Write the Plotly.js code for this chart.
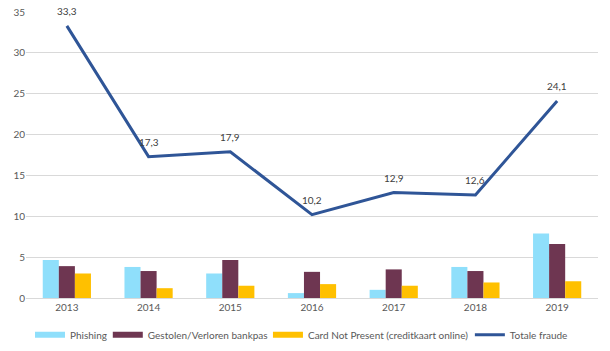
<!DOCTYPE html>
<html><head><meta charset="utf-8">
<script src="https://cdn.plot.ly/plotly-3.0.1.min.js"></script>
<style>html,body{margin:0;padding:0;background:#fff}#c{width:610px;height:351px}</style>
</head><body><div id="c"></div>
<script>
const years = ['2013','2014','2015','2016','2017','2018','2019'];
const phishing = [4.65, 3.8, 3.0, 0.6, 1.0, 3.8, 7.9];
const gestolen = [3.9, 3.3, 4.65, 3.2, 3.5, 3.3, 6.6];
const cnp = [3.0, 1.2, 1.5, 1.7, 1.5, 1.9, 2.05];
const totale = [33.3, 17.3, 17.9, 10.2, 12.9, 12.6, 24.1];
const names = ['Phishing','Gestolen/Verloren bankpas','Card Not Present (creditkaart online)','Totale fraude'];
const colors = ['#8FDFFB','#6E3651','#FFC000','#2F5597'];
const legendIds = ['legend','legend2','legend3','legend4'];
const legendX = [0.007, 0.143, 0.423, 0.776];
const fam = 'Lato, "Liberation Sans", sans-serif';
const fnt = {family:fam, size:10, color:'#595959'};
const series = [phishing, gestolen, cnp];
const data = [];
series.forEach((s,i)=>data.push({type:'bar', name:names[i], x:years, y:s, marker:{color:colors[i]}, showlegend:false}));
data.push({type:'scatter', mode:'lines', name:names[3], x:years, y:totale, showlegend:false,
  line:{color:colors[3], width:3}});
// legend entries (thin bar-like swatches as in the reference)
names.forEach((n,i)=>data.push({type:'scatter', mode:'lines', name:n, x:[null], y:[null], legend:legendIds[i],
  line:{color:colors[i], width: i<3 ? 6 : 3}, showlegend:true, hoverinfo:'skip'}));
const layout = {
 width:610, height:351, margin:{l:26, r:12, t:12, b:53, autoexpand:false},
 paper_bgcolor:'#fff', plot_bgcolor:'#fff', separators:', ',
 barmode:'group', bargap:0.41, bargroupgap:0,
 font:fnt, showlegend:true,
 annotations: totale.map((v,i)=>({x:years[i], y:v, xref:'x', yref:'y', text:v.toFixed(1).replace('.',','),
   showarrow:false, yshift:15, font:{family:fam, size:10, color:'#404040'}})),
 xaxis:{showgrid:false, showline:true, linecolor:'#D9D9D9', ticks:'', tickfont:fnt, fixedrange:true, automargin:false},
 yaxis:{range:[0,35], dtick:5, showgrid:true, gridcolor:'#D9D9D9', zeroline:false, showline:false, ticks:'', tickfont:fnt, fixedrange:true, automargin:false}
};
legendIds.forEach((id,i)=>{ layout[id] = {orientation:'h', xanchor:'left', x:legendX[i], yref:'container', y:0.046, yanchor:'middle',
   font:fnt, itemwidth:30, tracegroupgap:0, bgcolor:'rgba(0,0,0,0)'}; });
Plotly.newPlot('c', data, layout, {displayModeBar:false, staticPlot:true});
</script></body></html>
